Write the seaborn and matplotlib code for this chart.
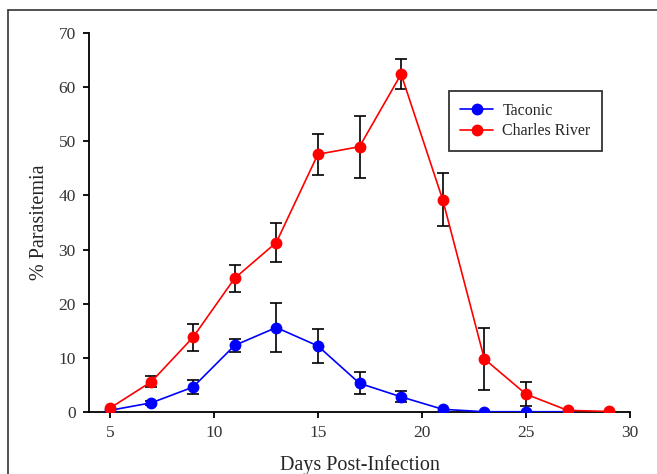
import matplotlib
matplotlib.use("Agg")
import matplotlib.pyplot as plt
from matplotlib.lines import Line2D
import seaborn as sns
import pandas as pd
import numpy as np

days = [5, 7, 9, 11, 13, 15, 17, 19, 21, 23, 25, 27, 29]
taconic_days = [5, 7, 9, 11, 13, 15, 17, 19, 21, 23, 25, 27]
taconic = [0.3, 1.7, 4.6, 12.3, 15.6, 12.2, 5.3, 2.8, 0.5, 0.05, 0.05, 0.05]
taconic_err = [0.0, 0.4, 1.3, 1.2, 4.6, 3.2, 2.0, 1.0, 0.0, 0.0, 0.0, 0.0]
charles = [0.7, 5.6, 13.8, 24.7, 31.3, 47.6, 49.0, 62.4, 39.2, 9.8, 3.3, 0.3, 0.1]
charles_err = [0.0, 1.0, 2.5, 2.5, 3.6, 3.8, 5.7, 2.75, 4.9, 5.8, 2.2, 0.0, 0.0]
series_names = ["Taconic", "Charles River"]
x_ticks = [5, 10, 15, 20, 25, 30]
y_ticks = [0, 10, 20, 30, 40, 50, 60, 70]

df = pd.concat([
    pd.DataFrame({"day": taconic_days, "val": taconic, "err": taconic_err, "strain": series_names[0]}),
    pd.DataFrame({"day": days, "val": charles, "err": charles_err, "strain": series_names[1]}),
])

sns.set_style("white")
plt.rcParams['font.family'] = ['Liberation Serif', 'DejaVu Serif']

fig = plt.figure(figsize=(6.57, 4.74), dpi=100)
ax = fig.add_axes([89/657, 1-412/474, (630-89)/657, (412-33)/474])

palette = {"Taconic": "#0000ff", "Charles River": "#ff0000"}
sns.lineplot(data=df, x="day", y="val", hue="strain", palette=palette, marker="o",
             markersize=8.5, markeredgewidth=0, linewidth=1.2, ax=ax, legend=False, zorder=3)

for name in series_names:
    sub = df[df["strain"] == name]
    m = sub["err"] > 0
    ax.errorbar(sub["day"][m], sub["val"][m], yerr=sub["err"][m], fmt="none",
                ecolor="black", elinewidth=1.2, capsize=4.5, capthick=1.2, zorder=2)

ax.set_xlim(4, 30)
ax.set_ylim(0, 70)
ax.set_xticks(x_ticks)
ax.set_yticks(y_ticks)
for s in ["top", "right"]:
    ax.spines[s].set_visible(False)
for s in ["left", "bottom"]:
    ax.spines[s].set_color("black")
    ax.spines[s].set_linewidth(1.3)
ax.tick_params(axis="both", which="major", bottom=True, left=True, direction="out",
               length=4, width=1.3, color="black", labelsize=12.5, labelcolor="#333333", pad=5.5)
ax.set_xlabel("Days Post-Infection", fontsize=14.5, labelpad=10)
ax.set_ylabel("% Parasitemia", fontsize=14.5, labelpad=7)

handles = [Line2D([], [], color=palette[n], marker="o", markersize=8.5, markeredgewidth=0, linewidth=1.2)
           for n in series_names]
leg = ax.legend(handles, series_names, loc="upper left", bbox_to_anchor=(0.665, 0.846),
                fontsize=11.5, frameon=True, fancybox=False, edgecolor="black",
                handlelength=2.1, borderpad=0.7, labelspacing=0.3, handletextpad=0.55,
                borderaxespad=0)
leg.get_frame().set_linewidth(1.3)

fig.add_artist(Line2D([8/657, 8/657], [0, 1-10/474], color="#333333", linewidth=1.2, transform=fig.transFigure))
fig.add_artist(Line2D([8/657, 1], [1-10/474, 1-10/474], color="#333333", linewidth=1.2, transform=fig.transFigure))

fig.savefig("out.png", dpi=100)
